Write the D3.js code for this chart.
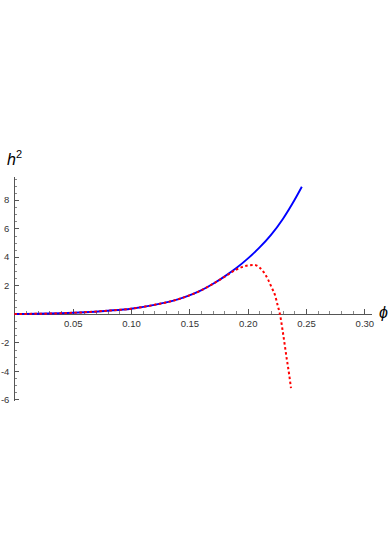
<!DOCTYPE html>
<html>
<head>
<meta charset="utf-8">
<script src="https://cdn.jsdelivr.net/npm/d3@7"></script>
<style>
	body { margin: 0; background: #fff; }
	svg text { font-family: "Liberation Sans", Arial, sans-serif; }
	.axis path, .axis line { stroke: #555; shape-rendering: crispEdges; }
	.axis text { fill: #333; font-size: 9.5px; }
	.axis--minor line { stroke: #888; }
</style>
</head>
<body>
<svg id="svg_chart"></svg>
<script>
// ====================================================
// data
var phi_blue = [0, 0.02, 0.04, 0.06, 0.08, 0.10, 0.12, 0.14, 0.15, 0.16, 0.17, 0.18, 0.19, 0.20, 0.21, 0.22, 0.23, 0.24, 0.2464];
var h2_blue  = [0, 0.01, 0.05, 0.12, 0.23, 0.37, 0.64, 1.02, 1.30, 1.65, 2.10, 2.62, 3.20, 3.88, 4.65, 5.55, 6.65, 7.98, 8.93];

var phi_red = [0, 0.02, 0.04, 0.06, 0.08, 0.10, 0.12, 0.14, 0.15, 0.16, 0.17, 0.18, 0.19, 0.195, 0.20, 0.2054, 0.21, 0.2134, 0.2176, 0.2205, 0.2234, 0.2257, 0.2276, 0.2305, 0.2334, 0.2356, 0.2371];
var h2_red  = [0, 0.01, 0.05, 0.12, 0.23, 0.37, 0.64, 1.02, 1.30, 1.65, 2.10, 2.60, 3.10, 3.29, 3.40, 3.44, 3.27, 2.97, 2.39, 1.86, 1.33, 0.60, 0.00, -1.47, -3.11, -4.28, -5.21];

var x_ticks_major = [0.05, 0.10, 0.15, 0.20, 0.25, 0.30];
var y_ticks_major = [-6, -4, -2, 2, 4, 6, 8];

var width = 392, height = 555;

var svg = d3.select("svg#svg_chart")
	.attr("width", width)
	.attr("height", height);

var x = d3.scaleLinear()
	.domain([0, 0.3063])
	.range([14.4, 371.7]);

var y = d3.scaleLinear()
	.domain([-6.1, 9.63])
	.range([400.9, 176.7]);

// minor ticks every 0.01 / 0.5
var x_ticks_minor = d3.range(1, 31).map(function(d) { return d / 100; })
	.filter(function(d) { return Math.round(d * 100) % 5 != 0; });
var y_ticks_minor = d3.range(-12, 20).map(function(d) { return d / 2; })
	.filter(function(d) { return d % 2 != 0; });

// ====================================================
// minor ticks first, no labels
svg.append("g")
	.attr("class", "axis axis--minor")
	.attr("transform", "translate(0," + y(0) + ")")
	.call(d3.axisBottom(x)
		.tickValues(x_ticks_minor)
		.tickSize(-2.5)
		.tickFormat(function() { return ""; }))
	.select(".domain").remove();

svg.append("g")
	.attr("class", "axis axis--minor")
	.attr("transform", "translate(" + x(0) + ",0)")
	.call(d3.axisLeft(y)
		.tickValues(y_ticks_minor)
		.tickSize(-2.5)
		.tickFormat(function() { return ""; }))
	.select(".domain").remove();

// ====================================================
// x axis, ticks pointing up
svg.append("g")
	.attr("class", "axis axis--x")
	.attr("transform", "translate(0," + y(0) + ")")
	.call(d3.axisBottom(x)
		.tickValues(x_ticks_major)
		.tickSize(-4.5)
		.tickSizeOuter(0)
		.tickPadding(6)
		.tickFormat(d3.format(".2f")));

// y axis, ticks pointing right
svg.append("g")
	.attr("class", "axis axis--y")
	.attr("transform", "translate(" + x(0) + ",0)")
	.call(d3.axisLeft(y)
		.tickValues(y_ticks_major)
		.tickSize(-4.5)
		.tickSizeOuter(0)
		.tickPadding(5)
		.tickFormat(function(d) { return d < 0 ? "-" + Math.abs(d) : d; }));

// ====================================================
// curves
var line = d3.line()
	.x(function(d) { return x(d[0]); })
	.y(function(d) { return y(d[1]); })
	.curve(d3.curveMonotoneX);

svg.append("path")
	.datum(d3.zip(phi_blue, h2_blue))
	.attr("fill", "none")
	.attr("stroke", "#0000ff")
	.attr("stroke-width", 1.9)
	.attr("d", line);

svg.append("path")
	.datum(d3.zip(phi_red, h2_red))
	.attr("fill", "none")
	.attr("stroke", "#ff0000")
	.attr("stroke-width", 2)
	.attr("stroke-dasharray", "2.5,2.5")
	.attr("d", line);

// ====================================================
// axis labels
var lab_h = svg.append("text")
	.attr("x", 7)
	.attr("y", 165)
	.attr("font-size", "16px")
	.attr("font-style", "italic")
	.attr("fill", "#000");
lab_h.append("tspan").text("h");
lab_h.append("tspan")
	.attr("font-size", "11px")
	.attr("font-style", "normal")
	.attr("dy", -7)
	.text("2");

svg.append("text")
	.attr("x", 379)
	.attr("y", 318)
	.attr("font-size", "16px")
	.attr("font-style", "italic")
	.attr("fill", "#000")
	.text("\u03d5");
</script>
</body>
</html>
